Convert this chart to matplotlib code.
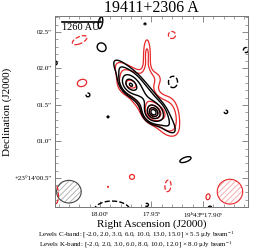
import numpy as np
import matplotlib
matplotlib.use('Agg')
import matplotlib.pyplot as plt
from matplotlib.patches import Ellipse
from matplotlib.ticker import MultipleLocator

plt.rcParams['font.family'] = ['Liberation Serif', 'DejaVu Serif']
plt.rcParams['mathtext.fontset'] = 'custom'
plt.rcParams['mathtext.rm'] = 'Liberation Serif'
plt.rcParams['hatch.linewidth'] = 0.6

title = '19411+2306 A'
levels_c = [-2.0, 2.0, 3.0, 6.0, 10.0, 13.0, 15.0]
rms_c = 5.5
levels_k = [-2.0, 2.0, 3.0, 6.0, 8.0, 10.0, 12.0]
rms_k = 8.0

# components: ra (s), dec (arcsec), amp (uJy), sigma major, sigma minor (arcsec), angle (deg)
c_ra = [17.9485, 17.9709, 17.9568, 17.9990, 17.9291, 17.8777, 17.8582, 17.9563, 18.0117,
        17.9922, 17.9175, 17.9883, 17.9995, 18.0437, 17.8932, 17.9544]
c_dec = [1.390, 1.774, 1.616, 2.295, 1.815, 1.404, 2.253, 2.610, 1.637,
         1.336, 0.746, 0.050, 2.630, 2.075, 0.089, 0.130]
c_amp = [65, 48, 34, 12.5, -16, -13, -14, -12, -13,
         12, 14, -20, 15, 13, 13, -12]
c_smaj = [0.08, 0.09, 0.42, 0.06, 0.09, 0.04, 0.05, 0.03, 0.045,
          0.03, 0.10, 0.22, 0.10, 0.05, 0.04, 0.03]
c_smin = [0.07, 0.065, 0.09, 0.06, 0.07, 0.04, 0.05, 0.03, 0.045,
          0.03, 0.04, 0.12, 0.035, 0.05, 0.04, 0.03]
c_ang = [-50, -50, -51, 0, 90, 0, 0, 0, 0,
         0, 20, 0, 80, 0, 0, 0]

k_ra = [17.9485, 17.9568, 17.9738, 17.9544, 17.9320, 17.9495, 18.0194, 17.9301, 18.0175,
        17.9689, 17.9340, 17.8951, 17.9922, 18.0427]
k_dec = [1.390, 1.616, 1.774, 2.185, 1.404, 1.870, 2.390, 2.459, 1.801,
         0.513, 0.390, 0.240, 0.376, 0.267]
k_amp = [60, 42, 22, 26, 20, 20, -22, -22, 22,
         20, -22, 20, 17, -22]
k_smaj = [0.08, 0.42, 0.08, 0.21, 0.20, 0.13, 0.14, 0.06, 0.08,
          0.05, 0.10, 0.06, 0.02, 0.15]
k_smin = [0.07, 0.12, 0.08, 0.045, 0.11, 0.10, 0.06, 0.06, 0.06,
          0.05, 0.05, 0.04, 0.02, 0.04]
k_ang = [-50, -51, 0, 90, 90, 0, 25, 0, 20,
         0, 85, 80, 0, 90]

beam_c = (0.33, 0.31)   # arcsec
beam_k = (0.34, 0.34)
scale_label = '1260 AU'
scale_len = 0.52  # arcsec

xticks = [18.00, 17.95, 17.90]
xticklabels = [r'18.00$^{\rm s}$', r'17.95$^{\rm s}$', r'19$^{\rm h}$43$^{\rm m}$17.90$^{\rm s}$']
yticks = [0.5, 1.0, 1.5, 2.0, 2.5]
yticklabels = ['+23\u00b014\u203200.5\u2033', '01.0\u2033', '01.5\u2033', '02.0\u2033', '02.5\u2033']

ASEC_PER_S = 15 * np.cos(np.radians(23.23))

ra_g = np.linspace(17.84, 18.06, 450)
dec_g = np.linspace(-0.1, 2.9, 450)
RA, DEC = np.meshgrid(ra_g, dec_g)


def field(ra, dec, amp, smaj, smin, ang):
    img = np.zeros_like(RA)
    for r, d, a, s1, s2, t in zip(ra, dec, amp, smaj, smin, ang):
        dx = (r - RA) * ASEC_PER_S
        dy = DEC - d
        th = np.radians(t)
        u = dx * np.cos(th) + dy * np.sin(th)
        v = -dx * np.sin(th) + dy * np.cos(th)
        img += a * np.exp(-0.5 * ((u / s1) ** 2 + (v / s2) ** 2))
    return img


img_c = field(c_ra, c_dec, c_amp, c_smaj, c_smin, c_ang)
img_k = field(k_ra, k_dec, k_amp, k_smaj, k_smin, k_ang)

fig = plt.figure(figsize=(2.64, 2.52), dpi=100)
ax = fig.add_axes([0.2083, 0.1786, 0.731, 0.758])

red = '#e8282b'
lk = np.array(levels_k) * rms_k
lc = np.array(levels_c) * rms_c
ax.contour(RA, DEC, img_k, levels=lk, colors=red, linewidths=0.9,
           linestyles=['--' if v < 0 else '-' for v in lk])
ax.contour(RA, DEC, img_c, levels=lc, colors='black', linewidths=1.0,
           linestyles=['--' if v < 0 else '-' for v in lc])

x0, x1 = 18.0437, 17.8563
y0, y1 = 0.10, 2.72
ax.set_xlim(x0, x1)
ax.set_ylim(y0, y1)

# beams
bx_c = x0 - 0.0135
bx_k = x1 + 0.0175
by = y0 + 0.21
for bx, (bmaj, bmin), col, hcol in [(bx_c, beam_c, '#444444', '#aaaaaa'),
                                     (bx_k, beam_k, red, '#f4a0a0')]:
    ax.add_patch(Ellipse((bx, by), bmaj / ASEC_PER_S, bmin, facecolor='none',
                         edgecolor=hcol, hatch='//////', lw=0))
    ax.add_patch(Ellipse((bx, by), bmaj / ASEC_PER_S, bmin, facecolor='none',
                         edgecolor=col, lw=0.8))

# scale bar
sx = x0 - 0.0068
sy = y1 - 0.08
ax.plot([sx, sx - scale_len / ASEC_PER_S], [sy, sy], color='black', lw=1.2)
ax.text(sx, sy - 0.02, scale_label, ha='left', va='top', fontsize=7.5)

ax.set_xticks(xticks)
ax.set_xticklabels(xticklabels)
ax.set_yticks(yticks)
ax.set_yticklabels(yticklabels)
ax.xaxis.set_minor_locator(MultipleLocator(0.01))
ax.yaxis.set_minor_locator(MultipleLocator(0.1))
ax.tick_params(which='both', direction='in', top=True, right=True,
               color='#777777', labelsize=5, pad=2)
ax.tick_params(which='major', length=4, width=0.6)
ax.tick_params(which='minor', length=2, width=0.5)
for sp in ax.spines.values():
    sp.set_color('#777777')
    sp.set_linewidth(0.7)

ax.set_title(title, fontsize=11.5, pad=2)
ax.set_xlabel('Right Ascension (J2000)', fontsize=8, labelpad=0)
ax.set_ylabel('Declination (J2000)', fontsize=8, labelpad=2)

fig.text(0.515, 0.066, 'Levels C-band: [-2.0, 2.0, 3.0, 6.0, 10.0, 13.0, 15.0] \u00d7 5.5 \u03bcJy beam$^{-1}$',
         ha='center', va='center', fontsize=5.0)
fig.text(0.515, 0.024, 'Levels K-band: [-2.0, 2.0, 3.0, 6.0, 8.0, 10.0, 12.0] \u00d7 8.0 \u03bcJy beam$^{-1}$',
         ha='center', va='center', fontsize=5.0)

fig.savefig('out.png', dpi=100)
